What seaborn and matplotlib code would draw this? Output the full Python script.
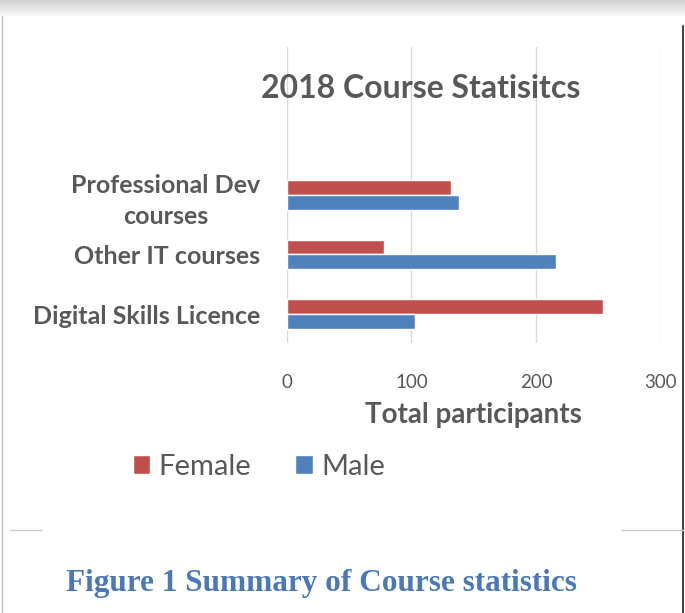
import numpy as np
import pandas as pd
import seaborn as sns
import matplotlib.pyplot as plt
from matplotlib.lines import Line2D

# data
courses = ['Professional Dev\ncourses', 'Other IT courses', 'Digital Skills Licence']
female = [132, 78, 254]
male = [138, 216, 103]
x_ticks = [0, 100, 200, 300]

df = pd.DataFrame({
    'course': courses * 2,
    'gender': ['Female'] * 3 + ['Male'] * 3,
    'participants': female + male,
})

sns.set_style('white')
plt.rcParams['font.family'] = ['Lato', 'DejaVu Sans']

grey = '#595959'
fig = plt.figure(figsize=(6.85, 6.13), dpi=100)
ax = fig.add_axes([286.7 / 685, 1 - 343 / 613, 374 / 685, 296 / 613])

sns.barplot(data=df, y='course', x='participants', hue='gender', order=courses,
            hue_order=['Female', 'Male'], palette=['#C0504D', '#4F81BD'],
            width=0.5, orient='h', saturation=1, ax=ax, legend=True)

ax.set_xlim(0, 300)
ax.set_ylim(2.48, -2.47)
ax.set_xticks(x_ticks)
ax.set_xticklabels([str(t) for t in x_ticks], color=grey, fontsize=13.5)
ax.grid(axis='x', color='#D9D9D9', linewidth=1)
ax.set_axisbelow(True)
for s in ax.spines.values():
    s.set_visible(False)
ax.tick_params(length=0)
ax.tick_params(axis='x', pad=22)
ax.tick_params(axis='y', pad=19)
for lab in ax.get_yticklabels():
    lab.set_color(grey)
    lab.set_fontsize(18)
    lab.set_fontweight('bold')
    lab.set_multialignment('center')
    lab.set_linespacing(1.45)
ax.set_ylabel('')
ax.set_xlabel('Total participants', color=grey, fontsize=20, fontweight='bold', labelpad=8)

handles, labels = ax.get_legend_handles_labels()
ax.get_legend().remove()
fig.legend(handles, labels, loc='center', bbox_to_anchor=(259 / 685, 1 - 467 / 613),
           ncol=2, frameon=False, fontsize=21, handlelength=0.6, handleheight=0.6,
           handletextpad=0.3, columnspacing=1.5, labelcolor=grey)

fig.text(421 / 685, 1 - 88 / 613, '2018 Course Statisitcs', ha='center', va='center',
         color=grey, fontsize=23, fontweight='bold')

# page decorations around the chart
shade = fig.add_axes([0, 1 - 16 / 613, 1, 16 / 613])
grad = np.linspace(0.82, 0.97, 16).reshape(-1, 1)
shade.imshow(grad, cmap='gray', vmin=0, vmax=1, aspect='auto')
shade.axis('off')
fig.add_artist(Line2D([2 / 685, 2 / 685], [0, 1 - 16 / 613], color='#BBBBBB', lw=1))
fig.add_artist(Line2D([683 / 685, 683 / 685], [0, 1 - 26 / 613], color='#444444', lw=1.5))
fig.add_artist(Line2D([10 / 685, 42 / 685], [1 - 530 / 613] * 2, color='#CCCCCC', lw=1))
fig.add_artist(Line2D([621 / 685, 1], [1 - 530 / 613] * 2, color='#CCCCCC', lw=1))

fig.text(321 / 685, 1 - 583 / 613, 'Figure 1 Summary of Course statistics', ha='center',
         va='center', color='#4A78B8', fontsize=22.5, fontweight='bold',
         family=['Liberation Serif', 'DejaVu Serif'])

fig.savefig('out.png', dpi=100)
